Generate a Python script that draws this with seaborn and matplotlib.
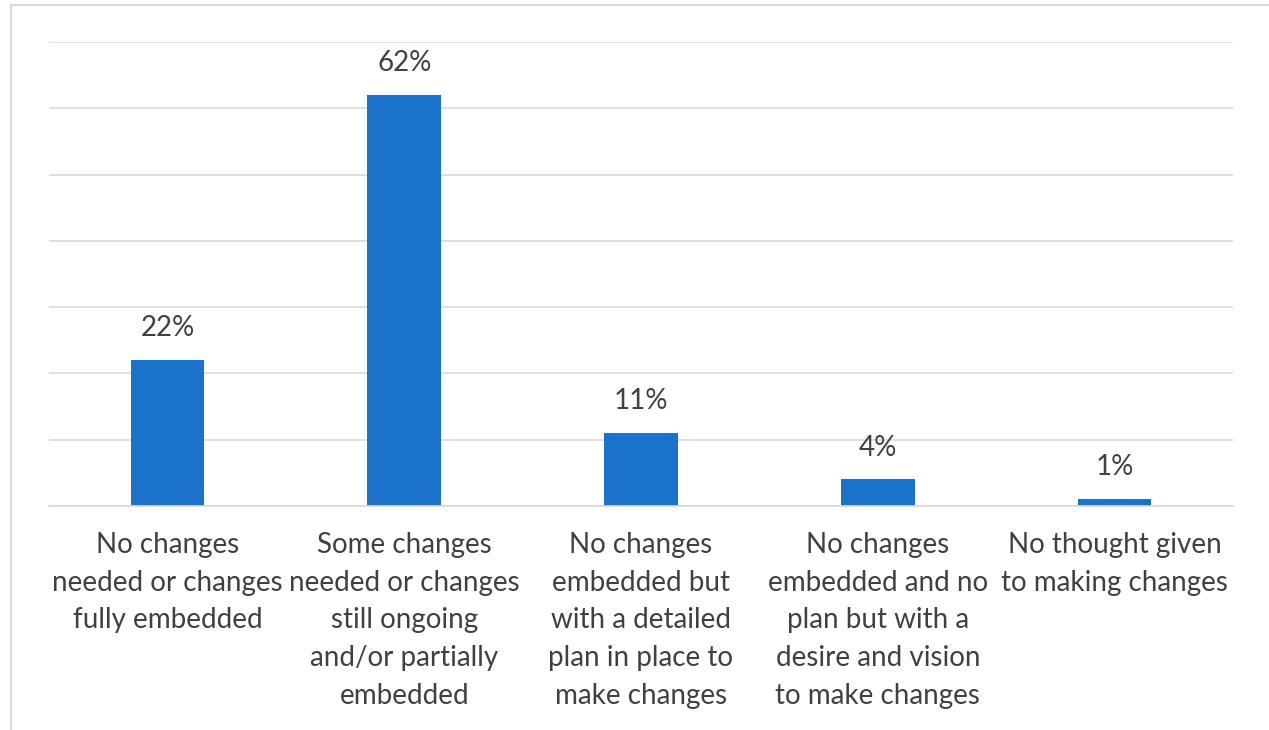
import matplotlib
matplotlib.use("Agg")
import matplotlib.pyplot as plt
import seaborn as sns
import pandas as pd
from matplotlib.patches import Rectangle

categories = [
    "No changes\nneeded or changes\nfully embedded",
    "Some changes\nneeded or changes\nstill ongoing\nand/or partially\nembedded",
    "No changes\nembedded but\nwith a detailed\nplan in place to\nmake changes",
    "No changes\nembedded and no\nplan but with a\ndesire and vision\nto make changes",
    "No thought given\nto making changes",
]
values = [22, 62, 11, 4, 1]
value_labels = ["22%", "62%", "11%", "4%", "1%"]

sns.set_theme(style="white")
plt.rcParams["font.family"] = ["Lato", "DejaVu Sans"]

TEXT = "#404040"
BAR = "#1B72CA"
GRID = "#D9D9D9"

df = pd.DataFrame({"category": categories, "value": values})

fig = plt.figure(figsize=(12.69, 7.30), dpi=100)
ax = fig.add_axes([49 / 1269, 224 / 730, (1233 - 49) / 1269, (506 - 42) / 730])

sns.barplot(data=df, x="category", y="value", hue="category", palette=[BAR] * 5,
            legend=False, width=0.31, ax=ax, saturation=1, edgecolor="none")

ax.set_ylim(0, 70)
ax.set_xlim(-0.5, 4.5)
ax.set_yticks(range(0, 71, 10))
ax.yaxis.grid(True, color=GRID, linewidth=1.2)
ax.set_axisbelow(True)
ax.tick_params(axis="y", left=False, labelleft=False)
ax.tick_params(axis="x", bottom=False, pad=13)
for s in ["top", "right", "left"]:
    ax.spines[s].set_visible(False)
ax.spines["bottom"].set_color(GRID)
ax.spines["bottom"].set_linewidth(1.2)
ax.set_xlabel("")
ax.set_ylabel("")
ax.set_xticks(range(len(categories)))
ax.set_xticklabels(categories, fontsize=20, color=TEXT, linespacing=1.55)

for i, (v, lab) in enumerate(zip(values, value_labels)):
    ax.annotate(lab, (i, v), xytext=(0, 23), textcoords="offset points",
                ha="center", va="center", fontsize=20, color=TEXT)

# outer frame of the chart area
fig.patches.append(Rectangle((11 / 1269, -0.1), 1.2, 1.1 - 5 / 730,
                             transform=fig.transFigure, fill=False,
                             edgecolor=GRID, linewidth=1.5))

fig.savefig("out.png", dpi=100, facecolor="white")
